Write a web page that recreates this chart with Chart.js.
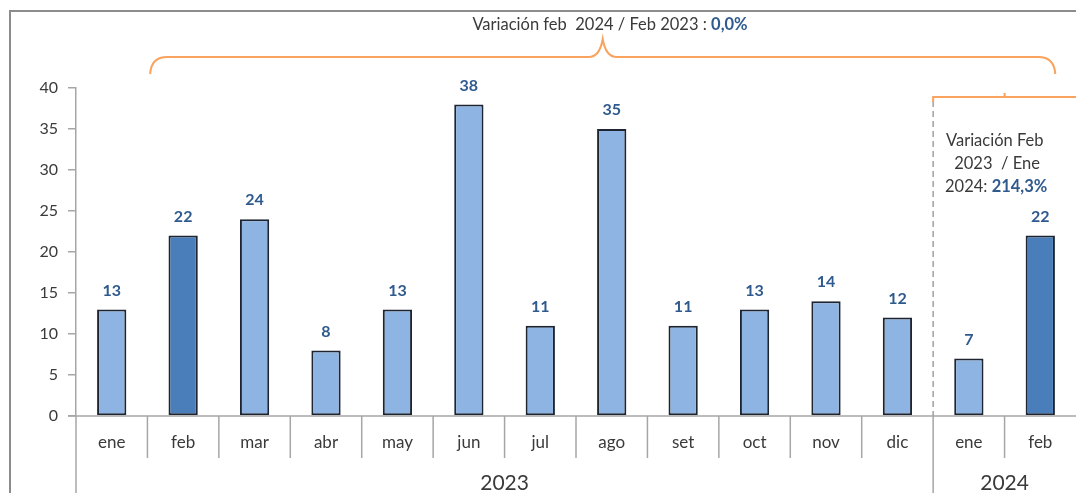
<!DOCTYPE html>
<html>
<head>
<meta charset="utf-8">
<script src="https://cdn.jsdelivr.net/npm/chart.js@4/dist/chart.umd.min.js"></script>
<style>
  html, body { margin: 0; padding: 0; background: #ffffff; }
  #wrap { width: 1076px; height: 493px; position: relative; }
</style>
</head>
<body>
<div id="wrap"><canvas id="c" width="1076" height="493"></canvas></div>
<script>
// ---- data ----
const months = ['ene','feb','mar','abr','may','jun','jul','ago','set','oct','nov','dic','ene','feb'];
const values = [13, 22, 24, 8, 13, 38, 11, 35, 11, 13, 14, 12, 7, 22];
const years = ['2023', '2024'];
const monthsPerYear = [12, 2];
const highlighted = [1, 13];
const yTicks = [0, 5, 10, 15, 20, 25, 30, 35, 40];
const titleText = 'Variación feb  2024 / Feb 2023 : ';
const titleValue = '0,0%';
const noteLines = ['Variación Feb', ' 2023  / Ene', '2024: '];
const noteValue = '214,3%';

const FONT = 'Lato, "Noto Sans", sans-serif';
const LIGHT = '#8DB4E3';
const DARK = '#4A7EBB';
const LABEL_BLUE = '#2F5A8E';
const TEXT = '#3A3A3A';
const AXIS = '#A6A6A6';
const ORANGE = '#F9A35F';

const colors = values.map((v, i) => highlighted.includes(i) ? DARK : LIGHT);

const overlay = {
  id: 'overlay',
  beforeDraw(chart) {
    const ctx = chart.ctx;
    ctx.save();
    ctx.strokeStyle = '#8C8C8C';
    ctx.lineWidth = 2;
    ctx.beginPath();
    ctx.moveTo(10, 493);
    ctx.lineTo(10, 11);
    ctx.lineTo(1076, 11);
    ctx.stroke();
    ctx.restore();
  },
  afterDatasetsDraw(chart) {
    const ctx = chart.ctx;
    const xs = chart.scales.x;
    const area = chart.chartArea;
    const meta = chart.getDatasetMeta(0);
    const step = xs.getPixelForValue(1) - xs.getPixelForValue(0);
    const bottom = area.bottom;
    ctx.save();

    // data labels
    ctx.font = 'bold 16px ' + FONT;
    ctx.fillStyle = LABEL_BLUE;
    ctx.textAlign = 'center';
    ctx.textBaseline = 'middle';
    meta.data.forEach((bar, i) => {
      ctx.fillText(String(values[i]), bar.x, bar.y - 19);
    });

    // custom x axis
    ctx.strokeStyle = AXIS;
    ctx.lineWidth = 1.5;
    ctx.beginPath();
    ctx.moveTo(area.left - 8, bottom);
    ctx.lineTo(area.right, bottom);
    ctx.moveTo(area.left, bottom);
    ctx.lineTo(area.left, 493);
    let boundaryYear = [];
    let acc = 0;
    monthsPerYear.forEach(n => { acc += n; boundaryYear.push(acc); });
    for (let i = 1; i < months.length; i++) {
      const bx = xs.getPixelForValue(i) - step / 2;
      ctx.moveTo(bx, bottom);
      ctx.lineTo(bx, boundaryYear.includes(i) ? 493 : bottom + 42);
    }
    ctx.stroke();

    ctx.font = '17px ' + FONT;
    ctx.fillStyle = TEXT;
    ctx.textBaseline = 'middle';
    months.forEach((m, i) => {
      ctx.fillText(m, xs.getPixelForValue(i), bottom + 27);
    });
    ctx.font = '21px ' + FONT;
    let start = 0;
    years.forEach((y, k) => {
      const l = xs.getPixelForValue(start) - step / 2;
      const r = xs.getPixelForValue(start + monthsPerYear[k] - 1) + step / 2;
      ctx.fillText(y, (l + r) / 2, bottom + 67);
      start += monthsPerYear[k];
    });

    // dashed divider between years
    const divX = xs.getPixelForValue(monthsPerYear[0]) - step / 2;
    ctx.strokeStyle = '#A0A0A0';
    ctx.lineWidth = 1.5;
    ctx.setLineDash([6, 4]);
    ctx.beginPath();
    ctx.moveTo(divX, 101);
    ctx.lineTo(divX, bottom);
    ctx.stroke();
    ctx.setLineDash([]);

    // big brace
    const L = xs.getPixelForValue(1) - 33;
    const R = xs.getPixelForValue(months.length - 1) + 15;
    const M = (L + R) / 2;
    const yb = 57;
    ctx.strokeStyle = ORANGE;
    ctx.lineWidth = 2;
    ctx.beginPath();
    ctx.moveTo(L, 74);
    ctx.quadraticCurveTo(L + 1, yb, L + 17, yb);
    ctx.lineTo(M - 14, yb);
    ctx.quadraticCurveTo(M - 3, yb, M, 39);
    ctx.quadraticCurveTo(M + 3, yb, M + 14, yb);
    ctx.lineTo(R - 17, yb);
    ctx.quadraticCurveTo(R - 1, yb, R, 74);
    ctx.stroke();

    // small bracket over 2024
    ctx.beginPath();
    ctx.moveTo(divX, 102);
    ctx.lineTo(divX, 97);
    ctx.lineTo(1076, 97);
    ctx.moveTo(xs.getPixelForValue(months.length - 1) - step / 2, 97);
    ctx.lineTo(xs.getPixelForValue(months.length - 1) - step / 2, 93);
    ctx.stroke();

    // title
    ctx.textAlign = 'left';
    ctx.textBaseline = 'middle';
    ctx.font = '16.5px ' + FONT;
    const w1 = ctx.measureText(titleText).width;
    ctx.font = 'bold 16.5px ' + FONT;
    const w2 = ctx.measureText(titleValue).width;
    let tx = 610 - (w1 + w2) / 2;
    ctx.font = '16.5px ' + FONT;
    ctx.fillStyle = TEXT;
    ctx.fillText(titleText, tx, 25);
    ctx.font = 'bold 16.5px ' + FONT;
    ctx.fillStyle = LABEL_BLUE;
    ctx.fillText(titleValue, tx + w1, 25);

    // note in 2024 section
    ctx.font = '16.5px ' + FONT;
    ctx.fillStyle = TEXT;
    ctx.fillText(noteLines[0], 946, 141);
    ctx.fillText(noteLines[1], 950, 164);
    ctx.fillText(noteLines[2], 945, 187);
    const nw = ctx.measureText(noteLines[2]).width;
    ctx.font = 'bold 16.5px ' + FONT;
    ctx.fillStyle = LABEL_BLUE;
    ctx.fillText(noteValue, 945 + nw, 187);

    ctx.restore();
  }
};

new Chart(document.getElementById('c'), {
  type: 'bar',
  data: {
    labels: months,
    datasets: [{
      data: values,
      backgroundColor: colors,
      borderColor: '#1E2530',
      borderWidth: 2,
      borderSkipped: false,
      categoryPercentage: 1,
      barPercentage: 0.41
    }]
  },
  options: {
    responsive: false,
    animation: false,
    devicePixelRatio: 1,
    layout: { padding: { top: 88, bottom: 77, left: 0, right: 0 } },
    plugins: { legend: { display: false }, tooltip: { enabled: false }, title: { display: false } },
    scales: {
      x: { display: false },
      y: {
        min: 0, max: 40,
        afterBuildTicks: s => { s.ticks = yTicks.map(v => ({ value: v })); },
        afterFit: s => { s.width = 76; },
        grid: { drawOnChartArea: false, tickLength: 8, color: AXIS, lineWidth: 1.5 },
        border: { color: AXIS, width: 1.5 },
        ticks: { padding: 10, color: TEXT, font: { family: FONT, size: 16 } }
      }
    }
  },
  plugins: [overlay]
});
</script>
</body>
</html>
